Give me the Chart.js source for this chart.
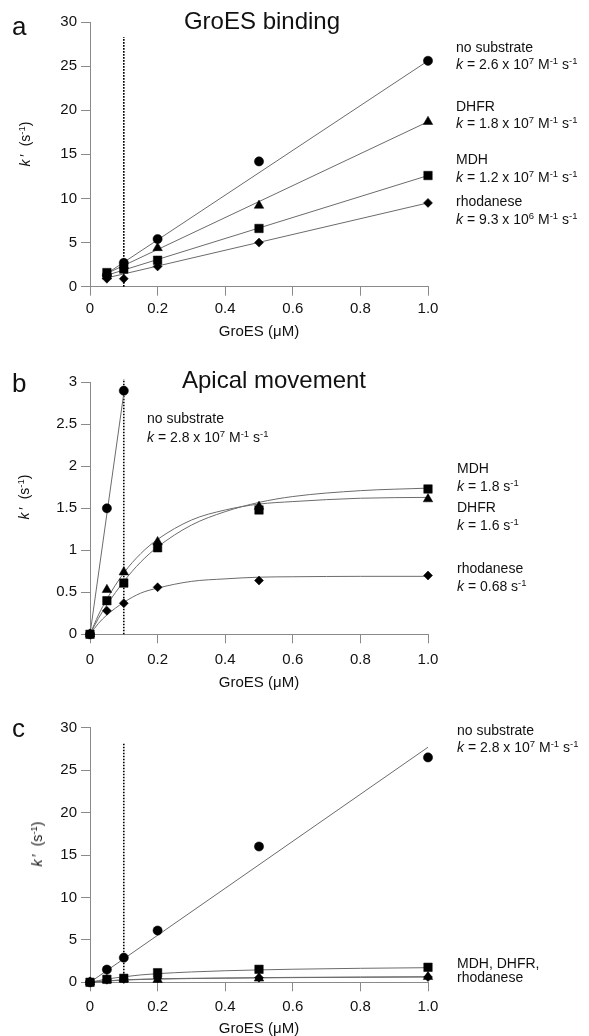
<!DOCTYPE html>
<html><head><meta charset="utf-8">
<script src="https://cdn.jsdelivr.net/npm/chart.js@4.4.1/dist/chart.umd.min.js"></script>
<style>
html,body{margin:0;padding:0;background:#fff;}
#page{position:relative;width:589px;height:1036px;overflow:hidden;font-family:"Liberation Sans",Arial,Helvetica,sans-serif;color:#111;}
canvas{position:absolute;left:0;}
.t{position:absolute;white-space:nowrap;font-size:14px;line-height:18px;}
.t sup,.yt sup{font-size:9.5px;vertical-align:5px;line-height:0;}
.ttl{position:absolute;white-space:nowrap;font-size:24px;line-height:24px;transform:translateX(-50%);}
.let{position:absolute;font-size:26px;line-height:26px;}
.yt{position:absolute;white-space:nowrap;font-size:14px;line-height:18px;transform:translate(-50%,-50%) rotate(-90deg);}
</style></head>
<body><div id="page">
<canvas id="ca"></canvas><canvas id="cb"></canvas><canvas id="cc"></canvas>

<div class="let" style="left:12px;top:13px">a</div>
<div class="ttl" style="left:262px;top:9px">GroES binding</div>
<div class="yt" style="left:25px;top:144px"><i>k</i>&#8201;′&nbsp; (s<sup>-1</sup>)</div>
<div class="t" style="left:456px;top:38px">no substrate</div>
<div class="t" style="left:456px;top:55px"><i>k</i> = 2.6 x 10<sup>7</sup> M<sup>-1</sup> s<sup>-1</sup></div>
<div class="t" style="left:456px;top:97px">DHFR</div>
<div class="t" style="left:456px;top:114px"><i>k</i> = 1.8 x 10<sup>7</sup> M<sup>-1</sup> s<sup>-1</sup></div>
<div class="t" style="left:456px;top:150px">MDH</div>
<div class="t" style="left:456px;top:168px"><i>k</i> = 1.2 x 10<sup>7</sup> M<sup>-1</sup> s<sup>-1</sup></div>
<div class="t" style="left:456px;top:192px">rhodanese</div>
<div class="t" style="left:456px;top:210px"><i>k</i> = 9.3 x 10<sup>6</sup> M<sup>-1</sup> s<sup>-1</sup></div>

<div class="let" style="left:12px;top:370px">b</div>
<div class="ttl" style="left:274px;top:368px">Apical movement</div>
<div class="yt" style="left:24px;top:497px"><i>k</i>&#8201;′&nbsp; (s<sup>-1</sup>)</div>
<div class="t" style="left:147px;top:409px">no substrate</div>
<div class="t" style="left:147px;top:428px"><i>k</i> = 2.8 x 10<sup>7</sup> M<sup>-1</sup> s<sup>-1</sup></div>
<div class="t" style="left:457px;top:459px">MDH</div>
<div class="t" style="left:457px;top:477px"><i>k</i> = 1.8 s<sup>-1</sup></div>
<div class="t" style="left:457px;top:498px">DHFR</div>
<div class="t" style="left:457px;top:516px"><i>k</i> = 1.6 s<sup>-1</sup></div>
<div class="t" style="left:457px;top:559px">rhodanese</div>
<div class="t" style="left:457px;top:577px"><i>k</i> = 0.68 s<sup>-1</sup></div>

<div class="let" style="left:12px;top:715px">c</div>
<div class="yt" style="left:37px;top:844px"><i>k</i>&#8201;′&nbsp; (s<sup>-1</sup>)</div>
<div class="t" style="left:457px;top:721px">no substrate</div>
<div class="t" style="left:457px;top:738px"><i>k</i> = 2.8 x 10<sup>7</sup> M<sup>-1</sup> s<sup>-1</sup></div>
<div class="t" style="left:457px;top:954px">MDH, DHFR,</div>
<div class="t" style="left:457px;top:968px">rhodanese</div>
</div>
<script>
// ---------- data ----------
const xTickValues = [0, 0.2, 0.4, 0.6, 0.8, 1.0];
const xTickLabels = ['0', '0.2', '0.4', '0.6', '0.8', '1.0'];
const yTickValuesAC = [0, 5, 10, 15, 20, 25, 30];
const yTickLabelsAC = ['0', '5', '10', '15', '20', '25', '30'];
const yTickValuesB = [0, 0.5, 1, 1.5, 2, 2.5, 3];
const yTickLabelsB = ['0', '0.5', '1', '1.5', '2', '2.5', '3'];

// panel a: GroES binding
const xA = [0.05, 0.1, 0.2, 0.5, 1.0];
const aNoSub = [1.3, 2.7, 5.4, 14.2, 25.6];
const aDHFR  = [1.2, 2.4, 4.4, 9.2, 18.7];
const aMDH   = [1.6, 2.0, 3.0, 6.6, 12.6];
const aRhod  = [0.9, 0.9, 2.3, 5.0, 9.5];
const xFitA = [0.05, 1.0];
const aFitNoSub = [1.5, 25.6];
const aFitDHFR  = [1.5, 18.7];
const aFitMDH   = [1.3, 12.6];
const aFitRhod  = [1.0, 9.5];
const aDotX = [0.1, 0.1];
const aDotY = [0, 28.3];

// panel b: apical movement
const xB = [0, 0.05, 0.1, 0.2, 0.5, 1.0];
const xBNoSub = [0, 0.05, 0.1];
const bNoSub = [0, 1.5, 2.9];
const bMDH  = [0, 0.40, 0.61, 1.03, 1.48, 1.73];
const bDHFR = [0, 0.53, 0.74, 1.10, 1.52, 1.61];
const bRhod = [0, 0.28, 0.37, 0.56, 0.64, 0.70];
const xFitBNoSub = [0, 0.1];
const bFitNoSub = [0, 2.87];
const xCurve = [0, 0.025, 0.05, 0.1, 0.15, 0.2, 0.3, 0.4, 0.5, 0.6, 0.8, 1.0];
const bFitMDH  = [0, 0.19, 0.35, 0.63, 0.86, 1.04, 1.30, 1.46, 1.57, 1.64, 1.71, 1.74];
const bFitDHFR = [0, 0.23, 0.42, 0.73, 0.96, 1.13, 1.36, 1.48, 1.55, 1.58, 1.62, 1.63];
const bFitRhod = [0, 0.13, 0.23, 0.38, 0.49, 0.55, 0.63, 0.66, 0.68, 0.685, 0.69, 0.69];
const bDotY = [0, 3.04];

// panel c
const xC = [0, 0.05, 0.1, 0.2, 0.5, 1.0];
const cNoSub = [0, 1.5, 2.9, 6.1, 16.0, 26.5];
const cMDH  = [0, 0.35, 0.47, 1.13, 1.53, 1.77];
const cDHFR = [0, 0.30, 0.40, 0.30, 0.47, 0.66];
const cRhod = [0, 0.30, 0.38, 0.50, 0.55, 0.62];
const xFitCNoSub = [0, 1.0];
const cFitNoSub = [0, 27.7];
const cFitMDH  = [0, 0.20, 0.38, 0.65, 0.87, 1.02, 1.22, 1.36, 1.46, 1.54, 1.65, 1.72];
const cFitDHFR = [0, 0.09, 0.17, 0.29, 0.36, 0.41, 0.47, 0.51, 0.55, 0.58, 0.62, 0.66];
const cFitRhod = [0, 0.08, 0.15, 0.26, 0.33, 0.38, 0.44, 0.48, 0.52, 0.55, 0.59, 0.62];
const cDotY = [0, 28.3];

// ---------- helpers ----------
const pts = (xs, ys) => xs.map((x, i) => ({x: x, y: ys[i]}));
const LINE = '#6b6b6b';
const AXIS = '#8a8a8a';
const FONT = '"Liberation Sans", Arial, Helvetica, sans-serif';
function marks(xs, ys, style, r) {
  return {data: pts(xs, ys), showLine: false, pointStyle: style, pointRadius: r,
    pointBackgroundColor: '#000', pointBorderColor: '#000', pointBorderWidth: 0.5, order: 0, clip: false};
}
function fit(xs, ys, curved) {
  return {data: pts(xs, ys), showLine: true, pointRadius: 0, borderColor: LINE, borderWidth: 1,
    fill: false, cubicInterpolationMode: curved ? 'monotone' : 'default', tension: 0, order: 1, clip: false};
}
function dotted(ys) {
  return {data: pts([0.1, 0.1], ys), showLine: true, pointRadius: 0, borderColor: '#000', borderWidth: 1.6,
    borderDash: [1.6, 1.4], fill: false, order: 2, clip: false};
}

function makeChart(id, c) {
  const cv = document.getElementById(id);
  cv.width = 589; cv.height = c.h; cv.style.top = c.top + 'px';
  cv.style.width = '589px'; cv.style.height = c.h + 'px';
  return new Chart(cv, {
    type: 'scatter',
    data: {datasets: c.datasets},
    options: {
      responsive: false, animation: false, devicePixelRatio: 1,
      events: [],
      layout: {padding: {left: 0, right: 589 - 428, top: c.areaTop - c.top, bottom: 0}},
      plugins: {legend: {display: false}, tooltip: {enabled: false}},
      scales: {
        x: {
          type: 'linear', min: 0, max: 1,
          afterBuildTicks: s => { s.ticks = xTickValues.map(v => ({value: v})); },
          afterFit: s => { s.height = c.top + c.h - c.areaBottom; },
          ticks: {autoSkip: false, maxRotation: 0, padding: c.xPad, color: '#111',
            font: {family: FONT, size: 15}, callback: (v, i) => xTickLabels[i]},
          grid: {drawOnChartArea: false, drawTicks: true, tickLength: 9, color: AXIS, lineWidth: 1},
          border: {display: true, color: AXIS, width: 1},
          title: {display: true, text: 'GroES (μM)', color: '#111', padding: {top: 0, bottom: 0},
            font: {family: FONT, size: 15, lineHeight: 1}}
        },
        y: {
          type: 'linear', min: 0, max: c.yMax,
          afterBuildTicks: s => { s.ticks = c.yVals.map(v => ({value: v})); },
          afterFit: s => { s.width = 90; },
          ticks: {autoSkip: false, padding: 4, color: '#111',
            font: {family: FONT, size: 15}, callback: (v, i) => c.yLabs[i]},
          grid: {drawOnChartArea: false, drawTicks: true, tickLength: 9, color: AXIS, lineWidth: 1},
          border: {display: true, color: AXIS, width: 1}
        }
      }
    }
  });
}

makeChart('ca', {top: 0, h: 339, areaTop: 22, areaBottom: 286.7, xPad: 4, yMax: 30,
  yVals: yTickValuesAC, yLabs: yTickLabelsAC,
  datasets: [
    marks(xA, aMDH, 'rect', 6),
    marks(xA, aNoSub, 'circle', 4.6),
    marks(xA, aDHFR, 'triangle', 5.5),
    marks(xA, aRhod, 'rectRot', 4.5),
    fit(xFitA, aFitNoSub), fit(xFitA, aFitDHFR), fit(xFitA, aFitMDH), fit(xFitA, aFitRhod),
    dotted(aDotY)
  ]});

makeChart('cb', {top: 339, h: 351, areaTop: 382.3, areaBottom: 634.3, xPad: 8, yMax: 3,
  yVals: yTickValuesB, yLabs: yTickLabelsB,
  datasets: [
    marks(xB, bMDH, 'rect', 6),
    marks(xBNoSub, bNoSub, 'circle', 4.6),
    marks(xB, bDHFR, 'triangle', 5.5),
    marks(xB, bRhod, 'rectRot', 4.5),
    fit(xFitBNoSub, bFitNoSub),
    fit(xCurve, bFitMDH, true), fit(xCurve, bFitDHFR, true), fit(xCurve, bFitRhod, true),
    dotted(bDotY)
  ]});

makeChart('cc', {top: 690, h: 346, areaTop: 727.7, areaBottom: 982.3, xPad: 7, yMax: 30,
  yVals: yTickValuesAC, yLabs: yTickLabelsAC,
  datasets: [
    marks(xC, cMDH, 'rect', 6),
    marks(xC, cNoSub, 'circle', 4.6),
    marks(xC, cDHFR, 'triangle', 5.5),
    marks(xC, cRhod, 'rectRot', 4.5),
    fit(xFitCNoSub, cFitNoSub),
    fit(xCurve, cFitMDH, true), fit(xCurve, cFitDHFR, true), fit(xCurve, cFitRhod, true),
    dotted(cDotY)
  ]});
</script>
</body></html>
